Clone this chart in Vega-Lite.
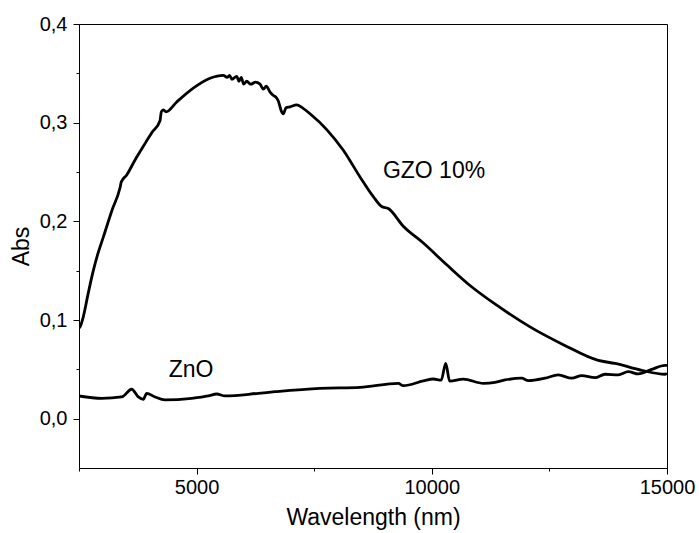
{
  "$schema": "https://vega.github.io/schema/vega-lite/v6.json",
  "width": 588,
  "height": 444,
  "autosize": {"type": "none"},
  "padding": {"left": 79, "top": 24, "right": 32, "bottom": 65},
  "background": "white",
  "config": {
    "view": {"stroke": "black", "strokeWidth": 1},
    "font": "Liberation Sans",
    "axis": {
      "labelFont": "Liberation Sans",
      "titleFont": "Liberation Sans",
      "labelColor": "black",
      "titleColor": "black",
      "domainColor": "black",
      "tickColor": "black",
      "grid": false,
      "labelFontSize": 20,
      "titleFontSize": 23,
      "titleFontWeight": "normal"
    }
  },
  "datasets": {
    "curves": [
      {"s": "GZO", "wl": 2500, "abs": 0.092},
      {"s": "GZO", "wl": 2521, "abs": 0.093},
      {"s": "GZO", "wl": 2590, "abs": 0.103},
      {"s": "GZO", "wl": 2700, "abs": 0.128},
      {"s": "GZO", "wl": 2804, "abs": 0.150},
      {"s": "GZO", "wl": 2900, "abs": 0.167},
      {"s": "GZO", "wl": 3017, "abs": 0.184},
      {"s": "GZO", "wl": 3200, "abs": 0.211},
      {"s": "GZO", "wl": 3372, "abs": 0.234},
      {"s": "GZO", "wl": 3400, "abs": 0.240},
      {"s": "GZO", "wl": 3514, "abs": 0.247},
      {"s": "GZO", "wl": 3700, "abs": 0.263},
      {"s": "GZO", "wl": 3867, "abs": 0.276},
      {"s": "GZO", "wl": 4050, "abs": 0.290},
      {"s": "GZO", "wl": 4222, "abs": 0.302},
      {"s": "GZO", "wl": 4250, "abs": 0.311},
      {"s": "GZO", "wl": 4292, "abs": 0.313},
      {"s": "GZO", "wl": 4350, "abs": 0.311},
      {"s": "GZO", "wl": 4577, "abs": 0.321},
      {"s": "GZO", "wl": 4930, "abs": 0.335},
      {"s": "GZO", "wl": 5285, "abs": 0.345},
      {"s": "GZO", "wl": 5568, "abs": 0.348},
      {"s": "GZO", "wl": 5650, "abs": 0.346},
      {"s": "GZO", "wl": 5700, "abs": 0.348},
      {"s": "GZO", "wl": 5750, "abs": 0.344},
      {"s": "GZO", "wl": 5853, "abs": 0.347},
      {"s": "GZO", "wl": 5900, "abs": 0.342},
      {"s": "GZO", "wl": 5950, "abs": 0.346},
      {"s": "GZO", "wl": 6000, "abs": 0.339},
      {"s": "GZO", "wl": 6065, "abs": 0.342},
      {"s": "GZO", "wl": 6150, "abs": 0.339},
      {"s": "GZO", "wl": 6250, "abs": 0.341},
      {"s": "GZO", "wl": 6348, "abs": 0.339},
      {"s": "GZO", "wl": 6420, "abs": 0.334},
      {"s": "GZO", "wl": 6480, "abs": 0.337},
      {"s": "GZO", "wl": 6561, "abs": 0.331},
      {"s": "GZO", "wl": 6620, "abs": 0.328},
      {"s": "GZO", "wl": 6700, "abs": 0.325},
      {"s": "GZO", "wl": 6737, "abs": 0.322},
      {"s": "GZO", "wl": 6800, "abs": 0.312},
      {"s": "GZO", "wl": 6843, "abs": 0.309},
      {"s": "GZO", "wl": 6900, "abs": 0.315},
      {"s": "GZO", "wl": 6986, "abs": 0.316},
      {"s": "GZO", "wl": 7128, "abs": 0.318},
      {"s": "GZO", "wl": 7250, "abs": 0.315},
      {"s": "GZO", "wl": 7411, "abs": 0.309},
      {"s": "GZO", "wl": 7766, "abs": 0.293},
      {"s": "GZO", "wl": 8119, "abs": 0.272},
      {"s": "GZO", "wl": 8474, "abs": 0.245},
      {"s": "GZO", "wl": 8756, "abs": 0.225},
      {"s": "GZO", "wl": 8935, "abs": 0.215},
      {"s": "GZO", "wl": 9075, "abs": 0.213},
      {"s": "GZO", "wl": 9394, "abs": 0.195},
      {"s": "GZO", "wl": 9820, "abs": 0.178},
      {"s": "GZO", "wl": 10317, "abs": 0.156},
      {"s": "GZO", "wl": 10812, "abs": 0.135},
      {"s": "GZO", "wl": 11380, "abs": 0.115},
      {"s": "GZO", "wl": 12088, "abs": 0.093},
      {"s": "GZO", "wl": 12796, "abs": 0.075},
      {"s": "GZO", "wl": 13540, "abs": 0.059},
      {"s": "GZO", "wl": 13895, "abs": 0.056},
      {"s": "GZO", "wl": 14463, "abs": 0.049},
      {"s": "GZO", "wl": 14958, "abs": 0.045},
      {"s": "GZO", "wl": 15000, "abs": 0.046},
      {"s": "ZnO", "wl": 2500, "abs": 0.023},
      {"s": "ZnO", "wl": 2983, "abs": 0.0206},
      {"s": "ZnO", "wl": 3408, "abs": 0.022},
      {"s": "ZnO", "wl": 3620, "abs": 0.0298},
      {"s": "ZnO", "wl": 3761, "abs": 0.022},
      {"s": "ZnO", "wl": 3867, "abs": 0.0196},
      {"s": "ZnO", "wl": 3939, "abs": 0.0257},
      {"s": "ZnO", "wl": 4116, "abs": 0.022},
      {"s": "ZnO", "wl": 4328, "abs": 0.019},
      {"s": "ZnO", "wl": 4896, "abs": 0.0206},
      {"s": "ZnO", "wl": 5249, "abs": 0.023},
      {"s": "ZnO", "wl": 5427, "abs": 0.025},
      {"s": "ZnO", "wl": 5604, "abs": 0.023},
      {"s": "ZnO", "wl": 6312, "abs": 0.0257},
      {"s": "ZnO", "wl": 6667, "abs": 0.0273},
      {"s": "ZnO", "wl": 7623, "abs": 0.0308},
      {"s": "ZnO", "wl": 8474, "abs": 0.0318},
      {"s": "ZnO", "wl": 9288, "abs": 0.0358},
      {"s": "ZnO", "wl": 9394, "abs": 0.0334},
      {"s": "ZnO", "wl": 9820, "abs": 0.0382},
      {"s": "ZnO", "wl": 10032, "abs": 0.0402},
      {"s": "ZnO", "wl": 10200, "abs": 0.039},
      {"s": "ZnO", "wl": 10296, "abs": 0.056},
      {"s": "ZnO", "wl": 10380, "abs": 0.038},
      {"s": "ZnO", "wl": 10670, "abs": 0.040},
      {"s": "ZnO", "wl": 11095, "abs": 0.0358},
      {"s": "ZnO", "wl": 11344, "abs": 0.0368},
      {"s": "ZnO", "wl": 11556, "abs": 0.0392},
      {"s": "ZnO", "wl": 11911, "abs": 0.041},
      {"s": "ZnO", "wl": 12052, "abs": 0.0385},
      {"s": "ZnO", "wl": 12407, "abs": 0.041},
      {"s": "ZnO", "wl": 12690, "abs": 0.0443},
      {"s": "ZnO", "wl": 12974, "abs": 0.041},
      {"s": "ZnO", "wl": 13187, "abs": 0.0436},
      {"s": "ZnO", "wl": 13470, "abs": 0.0415},
      {"s": "ZnO", "wl": 13682, "abs": 0.045},
      {"s": "ZnO", "wl": 13965, "abs": 0.0443},
      {"s": "ZnO", "wl": 14177, "abs": 0.0476},
      {"s": "ZnO", "wl": 14390, "abs": 0.0453},
      {"s": "ZnO", "wl": 14675, "abs": 0.050},
      {"s": "ZnO", "wl": 14958, "abs": 0.054},
      {"s": "ZnO", "wl": 15000, "abs": 0.054}
    ],
    "labels": [
      {"wl": 10047, "abs": 0.251, "text": "GZO 10%"},
      {"wl": 4881, "abs": 0.049, "text": "ZnO"}
    ]
  },
  "layer": [
    {
      "data": {"name": "curves"},
      "mark": {"type": "line", "color": "black", "strokeWidth": 2.8, "clip": true, "interpolate": "monotone"},
      "encoding": {
        "x": {
          "field": "wl", "type": "quantitative",
          "scale": {"domain": [2500, 15000], "nice": false, "zero": false},
          "axis": {
            "title": "Wavelength (nm)",
            "values": [2500, 5000, 7500, 10000, 12500, 15000],
            "labelExpr": "datum.value % 5000 === 0 ? format(datum.value, 'd') : ''",
            "tickSize": {"condition": {"test": "datum.value % 5000 === 0", "value": 6}, "value": 3},
            "labelPadding": 3,
            "titlePadding": 9,
            "labelFlush": false,
            "labelOverlap": false
          }
        },
        "y": {
          "field": "abs", "type": "quantitative",
          "scale": {"domain": [-0.05, 0.4], "nice": false, "zero": false},
          "axis": {
            "title": "Abs",
            "values": [0, 0.05, 0.1, 0.15, 0.2, 0.25, 0.3, 0.35, 0.4],
            "labelExpr": "abs(datum.value * 10 - round(datum.value * 10)) < 0.001 ? replace(format(datum.value, '.1f'), '.', ',') : ''",
            "tickSize": {"condition": {"test": "abs(datum.value * 10 - round(datum.value * 10)) < 0.001", "value": 6}, "value": 3},
            "labelPadding": 6,
            "titlePadding": 6,
            "labelFlush": false,
            "labelOverlap": false
          }
        },
        "detail": {"field": "s"}
      }
    },
    {
      "data": {"name": "labels"},
      "mark": {"type": "text", "font": "Liberation Sans", "fontSize": 23, "color": "black", "align": "center", "baseline": "middle"},
      "encoding": {
        "x": {"field": "wl", "type": "quantitative"},
        "y": {"field": "abs", "type": "quantitative"},
        "text": {"field": "text"}
      }
    }
  ]
}
